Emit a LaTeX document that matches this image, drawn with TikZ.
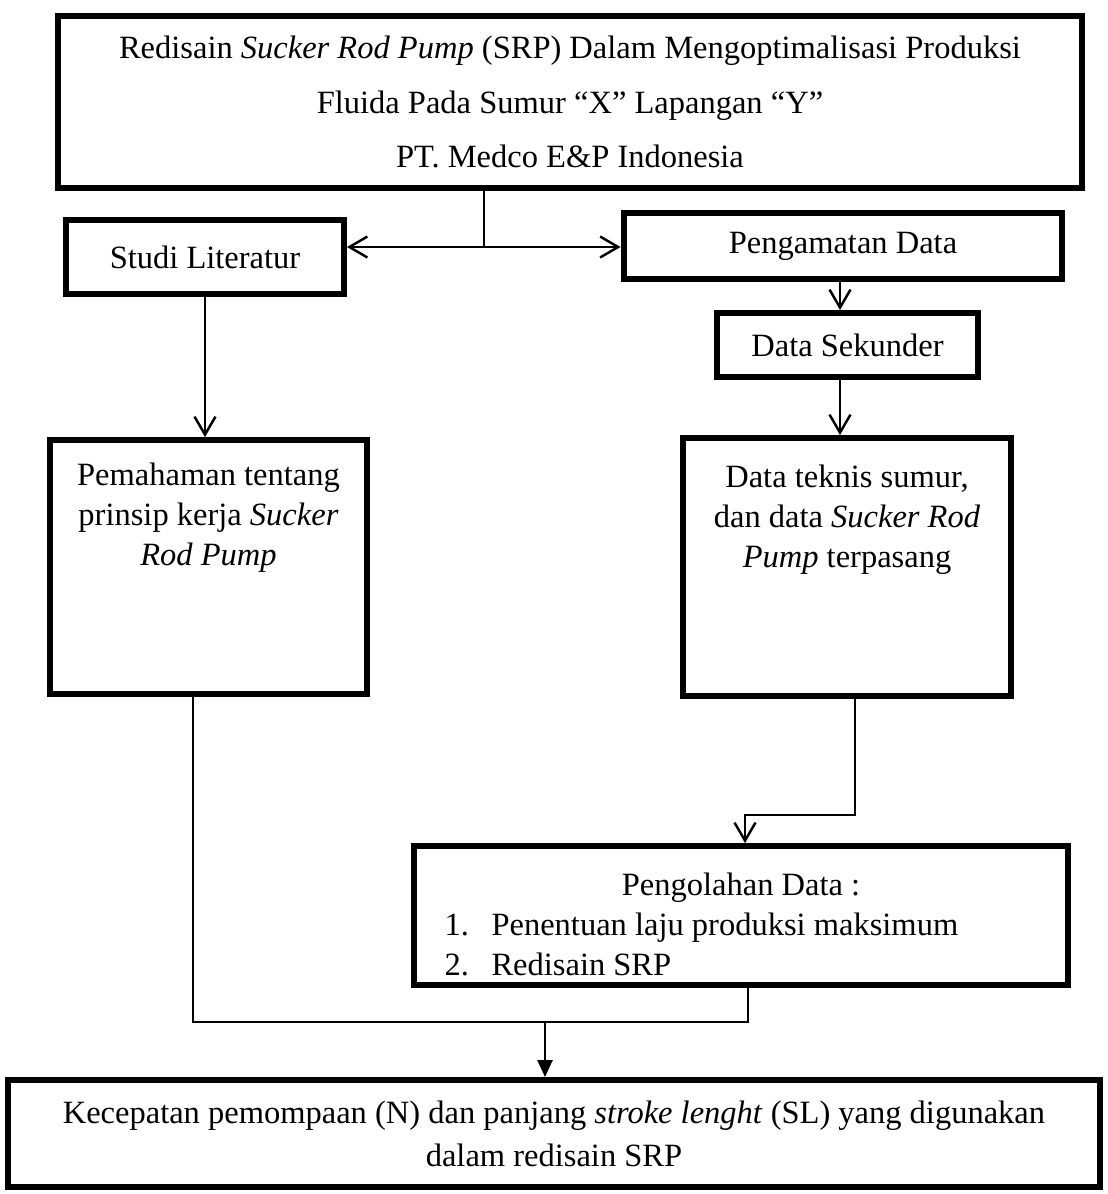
\documentclass[tikz,border=0pt]{standalone}
\usepackage{fontspec}
\setmainfont{Liberation Serif}
\usetikzlibrary{arrows.meta,positioning,calc}
\newcommand{\bodyfont}{\fontsize{18.5pt}{22.7pt}\selectfont}
\tikzset{
    every picture/.style={line join=miter},
    flowbox/.style={draw=black,fill=white,line width=3.4pt,inner sep=0pt,
      align=center,font=\bodyfont},
    flowline/.style={draw=black,line width=1.4pt},
    flowarrow/.style={flowline,-{Straight Barb[length=3.6mm,width=4.2mm]}},
    mergearrow/.style={flowline,-{Triangle[length=3.4mm,width=3mm]}}
}

\begin{document}
\begin{tikzpicture}[x=0.02cm,y=-0.02cm]
  \useasboundingbox (0,0) rectangle (1108,1194);
  % boxes
  \node[flowbox,minimum width=20.48cm,minimum height=3.44cm,
    font=\fontsize{18.5pt}{31.2pt}\selectfont] (title) at (570,102)
    {Redisain \textit{Sucker Rod Pump} (SRP) Dalam Mengoptimalisasi Produksi\\
     Fluida Pada Sumur ``X'' Lapangan ``Y''\\
     PT. Medco E\&P Indonesia};
  \node[flowbox,minimum width=5.56cm,minimum height=1.48cm] (studi) at (205,257) {Studi Literatur};
  \node[flowbox,minimum width=8.78cm,minimum height=1.32cm] (pengamatan) at (843,246) {Pengamatan Data};
  \node[flowbox,minimum width=5.22cm,minimum height=1.28cm] (sekunder) at (847.5,345) {Data Sekunder};
  \node[flowbox,minimum width=6.34cm,minimum height=5.08cm] (pemahaman) at (208.5,567)
    {\parbox[c][4.38cm][t]{6cm}{\centering\strut Pemahaman tentang\\
     prinsip kerja \textit{Sucker}\\ \textit{Rod Pump}}};
  \node[flowbox,minimum width=6.56cm,minimum height=5.16cm] (teknis) at (847,567)
    {\parbox[c][4.3cm][t]{6.2cm}{\centering\strut Data teknis sumur,\\
     dan data \textit{Sucker Rod}\\ \textit{Pump} terpasang}};
  \node[flowbox,minimum width=13.1cm,minimum height=2.78cm] (olah) at (741,915.5)
    {\parbox[c][1.92cm][t]{12.6cm}{\centering\strut Pengolahan Data :\par\raggedright
     \hspace*{3.7mm}\makebox[9.4mm][l]{1.}Penentuan laju produksi maksimum\par
     \hspace*{3.7mm}\makebox[9.4mm][l]{2.}Redisain SRP}};
  \node[flowbox,minimum width=21.84cm,minimum height=2.14cm,
    font=\fontsize{18.5pt}{24.4pt}\selectfont] (hasil) at (554,1133.5)
    {Kecepatan pemompaan (N) dan panjang \textit{stroke lenght} (SL) yang digunakan\\
     dalam redisain SRP};
  % connectors
  \coordinate (split) at (484,247);
  \draw[flowline] (title.south -| split) -- (split);
  \draw[flowarrow] (split) -- (split -| studi.east);
  \draw[flowarrow] (split) -- (split -| pengamatan.west);
  \coordinate (spine) at (840,300);
  \draw[flowarrow] (pengamatan.south -| spine) -- (sekunder.north -| spine);
  \draw[flowarrow] (sekunder.south -| spine) -- (teknis.north -| spine);
  \draw[flowarrow] (studi.south) -- (studi.south |- pemahaman.north);
  \coordinate (jog) at (855,815);
  \draw[flowarrow] (teknis.south -| jog) -- (jog) -| (olah.north -| 745,0);
  \coordinate (mergeL) at (193,1022);
  \coordinate (mergeR) at (748,1022);
  \coordinate (merge) at (545,1022);
  \draw[flowline] (pemahaman.south -| mergeL) |- (mergeR) -- (olah.south -| mergeR);
  \draw[mergearrow] (merge) -- (merge |- hasil.north);
\end{tikzpicture}
\end{document}
